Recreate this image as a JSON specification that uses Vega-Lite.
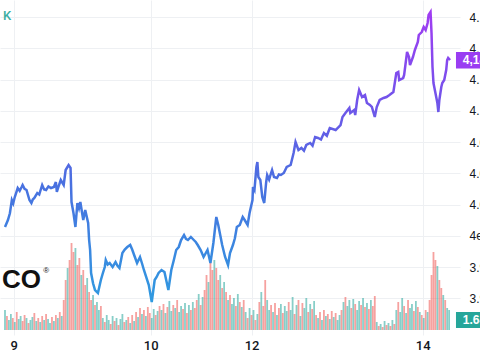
{
  "$schema": "https://vega.github.io/schema/vega-lite/v6.json",
  "width": 460,
  "height": 335,
  "autosize": {"type": "none"},
  "padding": {"left": 0, "top": 0, "right": 20, "bottom": 25},
  "background": "white",
  "config": {"view": {"stroke": null}},
  "datasets": {
    "price": [
      {"t":0,"p":4007.0},{"t":1.5,"p":4012.6},{"t":2.5,"p":4018.0},{"t":3.5,"p":4028.6},{"t":4.2,"p":4026.0},{"t":5,"p":4031.0},{"t":6.5,"p":4038.2},{"t":7.5,"p":4036.0},{"t":8.5,"p":4039.0},{"t":9,"p":4040.6},{"t":10,"p":4037.5},{"t":11,"p":4036.6},{"t":12.5,"p":4028.6},{"t":13.5,"p":4026.2},{"t":14.2,"p":4029.0},{"t":15,"p":4030.2},{"t":16.5,"p":4034.2},{"t":17.5,"p":4033.0},{"t":19,"p":4040.6},{"t":20,"p":4037.0},{"t":21,"p":4036.6},{"t":22.2,"p":4039.5},{"t":23.5,"p":4038.2},{"t":25,"p":4039.0},{"t":26,"p":4043.0},{"t":26.5,"p":4035.0},{"t":27.5,"p":4040.0},{"t":28.5,"p":4044.6},{"t":30,"p":4040.6},{"t":31,"p":4052.6},{"t":32.5,"p":4056.6},{"t":33.5,"p":4054.2},{"t":34,"p":4027.0},{"t":35,"p":4018.2},{"t":36,"p":4007.0},{"t":37,"p":4026.2},{"t":37.8,"p":4022.0},{"t":38.5,"p":4027.0},{"t":40,"p":4012.6},{"t":41,"p":4020.6},{"t":42.5,"p":4010.2},{"t":43,"p":3996.6},{"t":43.5,"p":3988.6},{"t":44,"p":3970.2},{"t":45,"p":3962.0},{"t":46,"p":3956.6},{"t":47.5,"p":3954.2},{"t":49,"p":3964.6},{"t":50,"p":3970.0},{"t":51,"p":3975.0},{"t":51.5,"p":3980.6},{"t":52.5,"p":3977.0},{"t":53.5,"p":3978.2},{"t":55,"p":3975.0},{"t":56.5,"p":3979.0},{"t":57.5,"p":3976.0},{"t":58.5,"p":3974.2},{"t":60,"p":3986.2},{"t":61.2,"p":3989.0},{"t":62.5,"p":3991.0},{"t":64,"p":3992.6},{"t":65,"p":3989.0},{"t":66,"p":3984.6},{"t":67.5,"p":3978.2},{"t":69,"p":3983.0},{"t":70,"p":3978.0},{"t":71,"p":3972.6},{"t":73.5,"p":3960.6},{"t":75,"p":3947.0},{"t":76.5,"p":3964.6},{"t":77.5,"p":3967.0},{"t":78.5,"p":3970.2},{"t":80,"p":3972.6},{"t":81.5,"p":3971.0},{"t":83.5,"p":3956.6},{"t":85,"p":3972.6},{"t":86.2,"p":3980.0},{"t":87.5,"p":3988.6},{"t":88.8,"p":3991.0},{"t":90,"p":3996.6},{"t":91.5,"p":4000.6},{"t":92.5,"p":3997.5},{"t":93.5,"p":3996.6},{"t":95,"p":3999.0},{"t":96.5,"p":3996.6},{"t":97.5,"p":3995.0},{"t":98.5,"p":3992.6},{"t":100,"p":3988.6},{"t":101.5,"p":3983.0},{"t":103.5,"p":3988.6},{"t":105,"p":3978.2},{"t":106.5,"p":3994.2},{"t":108,"p":4015.0},{"t":109,"p":4008.6},{"t":110,"p":4000.6},{"t":111,"p":3992.6},{"t":112.5,"p":3983.0},{"t":114,"p":3976.6},{"t":115,"p":3986.2},{"t":116.5,"p":3992.6},{"t":117.5,"p":3998.0},{"t":118.5,"p":4007.0},{"t":120,"p":4008.6},{"t":121.5,"p":4015.0},{"t":122.5,"p":4012.6},{"t":124,"p":4008.6},{"t":125,"p":4018.2},{"t":126.5,"p":4028.6},{"t":126.75,"p":4039.0},{"t":127.5,"p":4036.6},{"t":128.5,"p":4055.0},{"t":129,"p":4059.0},{"t":129.5,"p":4047.0},{"t":130.5,"p":4044.6},{"t":131.5,"p":4031.0},{"t":132.5,"p":4026.2},{"t":133.5,"p":4043.0},{"t":134,"p":4048.6},{"t":135,"p":4045.0},{"t":136,"p":4050.2},{"t":136.5,"p":4052.6},{"t":137.5,"p":4047.0},{"t":139,"p":4046.2},{"t":140,"p":4049.0},{"t":141,"p":4048.6},{"t":142.5,"p":4050.2},{"t":144,"p":4055.0},{"t":146,"p":4056.6},{"t":147.5,"p":4066.2},{"t":148.5,"p":4075.0},{"t":150,"p":4068.6},{"t":151.5,"p":4070.2},{"t":152.8,"p":4068.0},{"t":154,"p":4072.6},{"t":156,"p":4074.2},{"t":157.2,"p":4072.0},{"t":158.5,"p":4079.0},{"t":160,"p":4078.2},{"t":161.5,"p":4077.0},{"t":163,"p":4082.2},{"t":164.5,"p":4080.0},{"t":166,"p":4086.2},{"t":169,"p":4084.6},{"t":171.5,"p":4088.6},{"t":172.5,"p":4095.0},{"t":174,"p":4098.2},{"t":176,"p":4102.2},{"t":176.5,"p":4098.2},{"t":178.5,"p":4100.6},{"t":179,"p":4096.6},{"t":180,"p":4108.6},{"t":181,"p":4116.6},{"t":182.5,"p":4111.0},{"t":184,"p":4112.6},{"t":185,"p":4106.2},{"t":186.5,"p":4104.6},{"t":187.5,"p":4103.0},{"t":189,"p":4095.0},{"t":190,"p":4103.0},{"t":191.5,"p":4108.6},{"t":193.5,"p":4110.2},{"t":195,"p":4111.0},{"t":196.5,"p":4112.6},{"t":198.5,"p":4115.0},{"t":200,"p":4130.2},{"t":201,"p":4131.0},{"t":201.5,"p":4124.6},{"t":203.5,"p":4126.2},{"t":204,"p":4128.6},{"t":205.5,"p":4147.0},{"t":206.5,"p":4143.0},{"t":207,"p":4136.6},{"t":208.5,"p":4143.0},{"t":209.5,"p":4148.6},{"t":211,"p":4155.0},{"t":211.5,"p":4160.6},{"t":213,"p":4163.0},{"t":214,"p":4167.0},{"t":215,"p":4164.6},{"t":216,"p":4170.2},{"t":216.5,"p":4176.6},{"t":217.5,"p":4179.0},{"t":218,"p":4162.2},{"t":218.5,"p":4135.0},{"t":219,"p":4122.2},{"t":220,"p":4114.2},{"t":221,"p":4106.2},{"t":221.5,"p":4099.0},{"t":222,"p":4108.6},{"t":223,"p":4119.0},{"t":223.5,"p":4122.2},{"t":224.5,"p":4124.6},{"t":225.5,"p":4132.6},{"t":226,"p":4140.6},{"t":226.5,"p":4142.2},{"t":227.5,"p":4140.6}
    ],
    "vol": [
      {"t":0,"v":1000,"d":"u"},{"t":1,"v":700,"d":"d"},{"t":2,"v":500,"d":"u"},{"t":3,"v":800,"d":"u"},{"t":4,"v":600,"d":"d"},{"t":5,"v":400,"d":"u"},{"t":6,"v":900,"d":"d"},{"t":7,"v":550,"d":"u"},{"t":8,"v":700,"d":"u"},{"t":9,"v":450,"d":"d"},
      {"t":10,"v":750,"d":"d"},{"t":11,"v":600,"d":"u"},{"t":12,"v":350,"d":"d"},{"t":13,"v":500,"d":"u"},{"t":14,"v":650,"d":"u"},{"t":15,"v":850,"d":"d"},{"t":16,"v":450,"d":"u"},{"t":17,"v":600,"d":"d"},{"t":18,"v":400,"d":"u"},{"t":19,"v":700,"d":"d"},
      {"t":20,"v":500,"d":"u"},{"t":21,"v":800,"d":"d"},{"t":22,"v":550,"d":"u"},{"t":23,"v":350,"d":"u"},{"t":24,"v":650,"d":"d"},{"t":25,"v":450,"d":"u"},{"t":26,"v":750,"d":"d"},{"t":27,"v":600,"d":"u"},{"t":28,"v":900,"d":"d"},{"t":29,"v":700,"d":"u"},
      {"t":30,"v":1500,"d":"d"},{"t":31,"v":2500,"d":"d"},{"t":32,"v":3100,"d":"u"},{"t":33,"v":3500,"d":"d"},{"t":34,"v":4350,"d":"d"},{"t":35,"v":3900,"d":"d"},{"t":36,"v":4100,"d":"u"},{"t":37,"v":3250,"d":"d"},{"t":38,"v":3600,"d":"d"},{"t":39,"v":2750,"d":"u"},
      {"t":40,"v":3000,"d":"d"},{"t":41,"v":2250,"d":"d"},{"t":42,"v":2600,"d":"u"},{"t":43,"v":1900,"d":"d"},{"t":44,"v":1500,"d":"d"},{"t":45,"v":1750,"d":"u"},{"t":46,"v":1250,"d":"d"},{"t":47,"v":1400,"d":"u"},{"t":48,"v":1000,"d":"u"},{"t":49,"v":1200,"d":"d"},
      {"t":50,"v":600,"d":"u"},{"t":51,"v":400,"d":"d"},{"t":52,"v":750,"d":"u"},{"t":53,"v":500,"d":"u"},{"t":54,"v":300,"d":"d"},{"t":55,"v":700,"d":"u"},{"t":56,"v":450,"d":"d"},{"t":57,"v":600,"d":"u"},{"t":58,"v":250,"d":"d"},{"t":59,"v":550,"d":"u"},
      {"t":60,"v":800,"d":"u"},{"t":61,"v":400,"d":"d"},{"t":62,"v":500,"d":"u"},{"t":63,"v":650,"d":"d"},{"t":64,"v":350,"d":"u"},{"t":65,"v":750,"d":"d"},{"t":66,"v":450,"d":"u"},{"t":67,"v":900,"d":"d"},{"t":68,"v":650,"d":"u"},{"t":69,"v":1100,"d":"d"},
      {"t":70,"v":800,"d":"u"},{"t":71,"v":1000,"d":"d"},{"t":72,"v":700,"d":"u"},{"t":73,"v":1150,"d":"d"},{"t":74,"v":850,"d":"d"},{"t":75,"v":600,"d":"u"},{"t":76,"v":1050,"d":"u"},{"t":77,"v":750,"d":"d"},{"t":78,"v":950,"d":"u"},{"t":79,"v":1200,"d":"d"},
      {"t":80,"v":1000,"d":"u"},{"t":81,"v":1300,"d":"d"},{"t":82,"v":850,"d":"u"},{"t":83,"v":1150,"d":"d"},{"t":84,"v":1450,"d":"u"},{"t":85,"v":950,"d":"u"},{"t":86,"v":1250,"d":"d"},{"t":87,"v":1100,"d":"u"},{"t":88,"v":1500,"d":"d"},{"t":89,"v":900,"d":"u"},
      {"t":90,"v":1200,"d":"u"},{"t":91,"v":1050,"d":"d"},{"t":92,"v":1350,"d":"u"},{"t":93,"v":850,"d":"d"},{"t":94,"v":1250,"d":"u"},{"t":95,"v":1000,"d":"d"},{"t":96,"v":1400,"d":"u"},{"t":97,"v":1100,"d":"d"},{"t":98,"v":1500,"d":"d"},{"t":99,"v":1800,"d":"u"},
      {"t":100,"v":1250,"d":"d"},{"t":101,"v":1650,"d":"u"},{"t":102,"v":2000,"d":"d"},{"t":103,"v":2750,"d":"d"},{"t":104,"v":2400,"d":"u"},{"t":105,"v":3400,"d":"d"},{"t":106,"v":3000,"d":"d"},{"t":107,"v":3500,"d":"u"},{"t":108,"v":3100,"d":"d"},{"t":109,"v":2500,"d":"d"},
      {"t":110,"v":2750,"d":"u"},{"t":111,"v":2100,"d":"d"},{"t":112,"v":2400,"d":"u"},{"t":113,"v":1900,"d":"d"},{"t":114,"v":1500,"d":"u"},{"t":115,"v":1750,"d":"d"},{"t":116,"v":1300,"d":"u"},{"t":117,"v":1600,"d":"u"},{"t":118,"v":1200,"d":"d"},{"t":119,"v":1800,"d":"u"},
      {"t":120,"v":1400,"d":"d"},{"t":121,"v":1150,"d":"u"},{"t":122,"v":1500,"d":"d"},{"t":123,"v":900,"d":"u"},{"t":124,"v":600,"d":"d"},{"t":125,"v":1100,"d":"u"},{"t":126,"v":750,"d":"d"},{"t":127,"v":1000,"d":"u"},{"t":128,"v":500,"d":"d"},{"t":129,"v":800,"d":"u"},
      {"t":130,"v":1400,"d":"d"},{"t":131,"v":1900,"d":"u"},{"t":132,"v":1200,"d":"d"},{"t":133,"v":2500,"d":"d"},{"t":134,"v":1500,"d":"u"},{"t":135,"v":1000,"d":"u"},{"t":136,"v":1250,"d":"d"},{"t":137,"v":900,"d":"u"},{"t":138,"v":1350,"d":"d"},{"t":139,"v":750,"d":"u"},
      {"t":140,"v":1100,"d":"d"},{"t":141,"v":1300,"d":"u"},{"t":142,"v":850,"d":"d"},{"t":143,"v":1200,"d":"u"},{"t":144,"v":950,"d":"u"},{"t":145,"v":1400,"d":"d"},{"t":146,"v":1000,"d":"u"},{"t":147,"v":1650,"d":"u"},{"t":148,"v":800,"d":"d"},{"t":149,"v":1250,"d":"u"},
      {"t":150,"v":1500,"d":"d"},{"t":151,"v":700,"d":"u"},{"t":152,"v":1350,"d":"d"},{"t":153,"v":1100,"d":"u"},{"t":154,"v":1600,"d":"u"},{"t":155,"v":900,"d":"d"},{"t":156,"v":1300,"d":"u"},{"t":157,"v":1050,"d":"d"},{"t":158,"v":1450,"d":"u"},{"t":159,"v":750,"d":"d"},
      {"t":160,"v":600,"d":"u"},{"t":161,"v":900,"d":"d"},{"t":162,"v":500,"d":"u"},{"t":163,"v":1000,"d":"d"},{"t":164,"v":700,"d":"u"},{"t":165,"v":800,"d":"d"},{"t":166,"v":550,"d":"u"},{"t":167,"v":950,"d":"d"},{"t":168,"v":650,"d":"u"},{"t":169,"v":850,"d":"d"},
      {"t":170,"v":500,"d":"u"},{"t":171,"v":750,"d":"u"},{"t":172,"v":1000,"d":"d"},{"t":173,"v":1400,"d":"u"},{"t":174,"v":1650,"d":"d"},{"t":175,"v":1200,"d":"u"},{"t":176,"v":1500,"d":"u"},{"t":177,"v":1100,"d":"d"},{"t":178,"v":1550,"d":"u"},{"t":179,"v":1300,"d":"d"},
      {"t":180,"v":1000,"d":"u"},{"t":181,"v":1450,"d":"u"},{"t":182,"v":1250,"d":"d"},{"t":183,"v":1600,"d":"u"},{"t":184,"v":1150,"d":"d"},{"t":185,"v":1350,"d":"u"},{"t":186,"v":1050,"d":"d"},{"t":187,"v":1500,"d":"u"},{"t":188,"v":1200,"d":"d"},{"t":189,"v":1700,"d":"d"},
      {"t":190,"v":400,"d":"u"},{"t":191,"v":200,"d":"d"},{"t":192,"v":300,"d":"u"},{"t":193,"v":150,"d":"d"},{"t":194,"v":450,"d":"u"},{"t":195,"v":250,"d":"d"},{"t":196,"v":350,"d":"u"},{"t":197,"v":200,"d":"d"},{"t":198,"v":500,"d":"u"},{"t":199,"v":300,"d":"d"},
      {"t":200,"v":1000,"d":"u"},{"t":201,"v":1400,"d":"d"},{"t":202,"v":900,"d":"u"},{"t":203,"v":1600,"d":"u"},{"t":204,"v":1200,"d":"d"},{"t":205,"v":850,"d":"u"},{"t":206,"v":1500,"d":"d"},{"t":207,"v":1100,"d":"u"},{"t":208,"v":1300,"d":"u"},{"t":209,"v":950,"d":"d"},
      {"t":210,"v":1450,"d":"u"},{"t":211,"v":1150,"d":"d"},{"t":212,"v":900,"d":"u"},{"t":213,"v":750,"d":"d"},{"t":214,"v":600,"d":"u"},{"t":215,"v":1000,"d":"d"},{"t":216,"v":900,"d":"u"},{"t":217,"v":1500,"d":"d"},{"t":218,"v":2750,"d":"d"},{"t":219,"v":3900,"d":"d"},
      {"t":220,"v":3500,"d":"d"},{"t":221,"v":3200,"d":"u"},{"t":222,"v":2500,"d":"d"},{"t":223,"v":2100,"d":"d"},{"t":224,"v":1750,"d":"u"},{"t":225,"v":1500,"d":"d"},{"t":226,"v":1100,"d":"u"},{"t":227,"v":1000,"d":"u"}
    ]
  },
  "encoding": {
    "x": {
      "field": "t", "type": "quantitative",
      "scale": {"domain": [0, 230], "nice": false, "zero": false},
      "axis": {
        "title": null, "values": [4.5, 74.5, 126, 213.5],
        "labelExpr": "datum.value == 4.5 ? '9' : datum.value == 74.5 ? '10' : datum.value == 126 ? '12' : '14'",
        "ticks": false, "domain": false, "grid": true, "gridColor": "#eef0f3",
        "labelFont": "Roboto", "labelFontSize": 13, "labelFontWeight": 500, "labelColor": "#131722", "labelPadding": 4
      }
    }
  },
  "layer": [
    {
      "encoding": {
        "y": {"field": "v", "type": "quantitative", "scale": {"domain": [-250, 16500], "nice": false, "zero": false}, "axis": null}
      },
      "layer": [
        {
          "data": {"values": [{"v": -1350}]},
          "mark": {"type": "rule", "color": "#e0e3eb", "strokeWidth": 1}
        },
        {
          "data": {"name": "vol"},
          "mark": {"type": "bar", "size": 1.8, "opacity": 0.55},
          "encoding": {
            "color": {"field": "d", "type": "nominal", "scale": {"domain": ["u", "d"], "range": ["#26a69a", "#ef5350"]}, "legend": null}
          }
        },
        {
          "data": {"values": [{"t0": 230.5, "t1": 250, "v0": 100, "v1": 900}]},
          "mark": {"type": "rect", "color": "#26a69a"},
          "encoding": {
            "x": {"field": "t0", "type": "quantitative"}, "x2": {"field": "t1"},
            "y": {"field": "v0", "type": "quantitative"}, "y2": {"field": "v1"}
          }
        },
        {
          "data": {"values": [{"t": 234, "v": 500, "label": "1.64K"}]},
          "mark": {"type": "text", "align": "left", "baseline": "middle", "color": "white", "font": "Liberation Sans", "fontSize": 12, "fontWeight": "bold"},
          "encoding": {"text": {"field": "label"}}
        }
      ]
    },
    {
      "encoding": {
        "y": {
          "field": "p", "type": "quantitative",
          "scale": {"domain": [3920.6, 4188.6], "nice": false, "zero": false},
          "axis": {
            "title": null, "orient": "right",
            "values": [3950, 3975, 4000, 4025, 4050, 4075, 4100, 4125, 4150, 4175],
            "format": ",", "ticks": false, "domain": false, "grid": true, "gridColor": "#eef0f3",
            "labelFont": "Liberation Sans", "labelFontSize": 12, "labelColor": "#131722", "labelPadding": 9
          }
        }
      },
      "layer": [
        {
          "data": {"values": [{"p": 4140.6}]},
          "mark": {"type": "rule", "color": "#787b86", "strokeDash": [1, 2], "strokeWidth": 1}
        },
        {
          "data": {"name": "price"},
          "mark": {
            "type": "line", "strokeWidth": 2.5, "interpolate": "linear",
            "color": {"gradient": "linear", "x1": 0, "y1": 1, "x2": 0, "y2": 0,
              "stops": [{"offset": 0, "color": "#2f9ae0"}, {"offset": 0.42, "color": "#4a6fe0"}, {"offset": 0.75, "color": "#7a4fec"}, {"offset": 1, "color": "#a03cf2"}]}
          }
        },
        {
          "data": {"values": [{"t0": 230.5, "t1": 250, "p0": 4133.8, "p1": 4147.0}]},
          "mark": {"type": "rect", "color": "#9a3df2"},
          "encoding": {
            "x": {"field": "t0", "type": "quantitative"}, "x2": {"field": "t1"},
            "y": {"field": "p0", "type": "quantitative"}, "y2": {"field": "p1"}
          }
        },
        {
          "data": {"values": [{"t": 234, "p": 4140.6, "label": "4,140.6"}]},
          "mark": {"type": "text", "align": "left", "baseline": "middle", "color": "white", "font": "Liberation Sans", "fontSize": 12, "fontWeight": "bold"},
          "encoding": {"text": {"field": "label"}}
        },
        {
          "data": {"values": [{"t": -1.5, "p": 3964.6, "label": "CO"}]},
          "mark": {"type": "text", "align": "left", "baseline": "middle", "color": "#111111", "font": "Liberation Sans", "fontSize": 26, "fontWeight": "bold"},
          "encoding": {"text": {"field": "label"}}
        },
        {
          "data": {"values": [{"t": 19.5, "p": 3971.8, "label": "®"}]},
          "mark": {"type": "text", "align": "left", "baseline": "middle", "color": "#111111", "font": "Liberation Sans", "fontSize": 8},
          "encoding": {"text": {"field": "label"}}
        },
        {
          "data": {"values": [{"t": -1, "p": 4175.8, "label": "K"}]},
          "mark": {"type": "text", "align": "left", "baseline": "middle", "color": "#3aaea2", "font": "Roboto", "fontSize": 13, "fontWeight": 500},
          "encoding": {"text": {"field": "label"}}
        }
      ]
    }
  ],
  "resolve": {"scale": {"y": "independent"}}
}
